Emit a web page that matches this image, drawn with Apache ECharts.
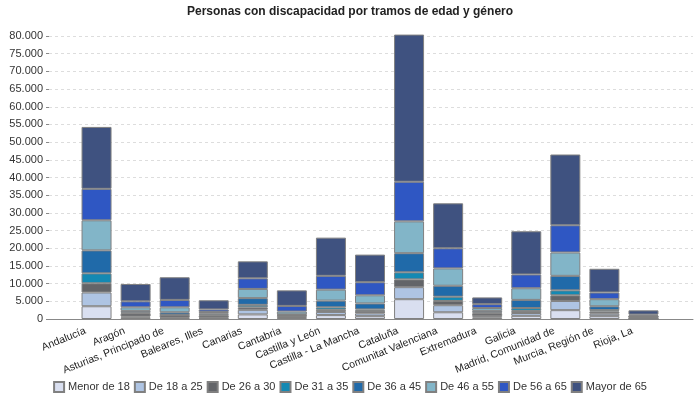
<!DOCTYPE html>
<html>
<head>
<meta charset="utf-8">
<script src="https://cdn.jsdelivr.net/npm/echarts@6/dist/echarts.min.js"></script>
<style>
  html, body { margin: 0; padding: 0; background: #fff; }
  #container { width: 700px; height: 400px; }
</style>
</head>
<body>
<div id="container"></div>
<script>
// datos
var comunidades = ['Andalucía', 'Aragón', 'Asturias, Principado de', 'Baleares, Illes', 'Canarias', 'Cantabria',
    'Castilla y León', 'Castilla - La Mancha', 'Cataluña', 'Comunitat Valenciana', 'Extremadura', 'Galicia',
    'Madrid, Comunidad de', 'Murcia, Región de', 'Rioja, La'];
var tramos = ['Menor de 18', 'De 18 a 25', 'De 26 a 30', 'De 31 a 35', 'De 36 a 45', 'De 46 a 55', 'De 56 a 65', 'Mayor de 65'];
var menor18 = [3600, 400, 200, 200, 1300, 300, 1100, 800, 5600, 1900, 400, 900, 2500, 800, 50];
var de18a25 = [3900, 300, 200, 200, 1300, 300, 900, 800, 3400, 2000, 400, 800, 2600, 700, 50];
var de26a30 = [2600, 900, 700, 600, 700, 400, 600, 700, 2200, 1200, 800, 600, 1600, 600, 500];
var de31a35 = [2800, 200, 100, 200, 700, 100, 700, 400, 2000, 1200, 200, 800, 1400, 400, 50];
var de36a45 = [6500, 500, 700, 400, 1900, 200, 1900, 1700, 5400, 3100, 500, 2300, 4100, 1100, 100];
var de46a55 = [8500, 1000, 1400, 400, 2600, 800, 3100, 2300, 9000, 4900, 800, 3300, 6600, 2000, 200];
var de56a65 = [8900, 1700, 2100, 700, 3000, 1600, 3900, 3700, 11200, 5700, 1100, 3900, 7700, 1900, 300];
var mayor65 = [17500, 4900, 6400, 2600, 4800, 4400, 10800, 7800, 41600, 12700, 1900, 12200, 20000, 6700, 1200];
var colores = ['#d9dff0', '#aec4e3', '#636569', '#1489b3', '#206aa9', '#82b5c8', '#2f57c3', '#3f5280'];

var valores = [menor18, de18a25, de26a30, de31a35, de36a45, de46a55, de56a65, mayor65];
var fuente = 'Liberation Sans, Arial, sans-serif';

function miles(v) {
    return String(v).replace(/\B(?=(\d{3})+(?!\d))/g, '.');
}

var series = [];
for (var i = 0; i < tramos.length; i++) {
    series.push({
        name: tramos[i],
        type: 'bar',
        stack: 'total',
        xAxisIndex: 1,
        yAxisIndex: 1,
        barWidth: 30,
        clip: false,
        itemStyle: { color: colores[i], borderColor: '#808080', borderWidth: 1 },
        emphasis: { disabled: true },
        data: valores[i]
    });
}

var myChart = echarts.init(document.getElementById('container'));
var option = {
    animation: false,
    textStyle: { fontFamily: fuente },
    title: {
        text: 'Personas con discapacidad por tramos de edad y género',
        left: 'center',
        top: 1,
        textStyle: { fontSize: 12, fontWeight: 'bold', color: '#222', fontFamily: fuente }
    },
    legend: {
        data: tramos,
        icon: 'rect',
        bottom: 2,
        left: 'center',
        itemWidth: 10,
        itemHeight: 10,
        itemGap: 4,
        textStyle: { fontSize: 11, color: '#333', padding: [0, 0, 0, -1] }
    },
    grid: [
        { left: 49, right: 7, top: 36, bottom: 81 },
        { left: 77, right: 37, top: 36, bottom: 81 }
    ],
    xAxis: [
        {
            type: 'value', gridIndex: 0, min: 0, max: 1,
            axisLine: { show: true, lineStyle: { color: '#888' } },
            axisTick: { show: false }, axisLabel: { show: false }, splitLine: { show: false }
        },
        {
            type: 'category', gridIndex: 1, data: comunidades,
            axisLine: { show: false }, axisTick: { show: false },
            axisLabel: { rotate: 22, fontSize: 10.5, color: '#222', interval: 0, margin: 7, padding: [0, 12, 0, 0] }
        }
    ],
    yAxis: [
        {
            type: 'value', gridIndex: 0, min: 0, max: 80000, interval: 5000,
            axisLine: { show: false },
            axisTick: { show: true, length: 3, lineStyle: { color: '#888' } },
            axisLabel: { fontSize: 11, color: '#333', margin: 6, formatter: miles },
            splitLine: { lineStyle: { color: '#dddddd', type: [3, 3] } }
        },
        {
            type: 'value', gridIndex: 1, min: 0, max: 80000, interval: 5000,
            show: false, splitLine: { show: false }
        }
    ],
    series: series
};
myChart.setOption(option);
</script>
</body>
</html>
